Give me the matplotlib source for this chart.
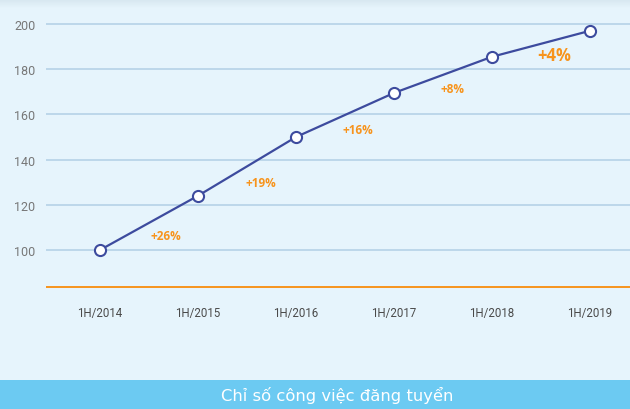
import numpy as np
import matplotlib.pyplot as plt
from matplotlib.colors import LinearSegmentedColormap
from matplotlib.patches import Rectangle

# data
periods = ["1H/2014", "1H/2015", "1H/2016", "1H/2017", "1H/2018", "1H/2019"]
index_values = [100, 124, 150, 169.5, 185.5, 197]
growth_labels = ["+26%", "+19%", "+16%", "+8%", "+4%"]
y_ticks = [100, 120, 140, 160, 180, 200]
title = "Chỉ số công việc đăng tuyển"

bg = "#e6f4fc"
line_col = "#3d4b9e"
orange = "#f7941d"
grid_col = "#bcd7ea"

fig = plt.figure(figsize=(6.3, 4.1), dpi=100)
fig.patch.set_facecolor(bg)

# axes from pixel x=46..630, y=0..381
W, H = 630, 410
ax = fig.add_axes([46 / W, (H - 381) / H, 1 - 46 / W, 381 / H])
px_per_unit = 98.0          # horizontal spacing between periods
px_per_val = 45.2 / 20      # vertical pixels per index point
ax.set_xlim(-54 / px_per_unit, 5 + 40 / px_per_unit)
ax.set_ylim(100 - (381 - 251) / px_per_val, 100 + 251 / px_per_val)

for s in ax.spines.values():
    s.set_visible(False)
ax.set_xticks([])
ax.set_yticks(y_ticks)
ax.tick_params(axis="y", length=0, pad=23, labelsize=9, labelcolor="#777777")
for lab in ax.get_yticklabels():
    lab.set_ha("left")
    lab.set_family(["Roboto", "DejaVu Sans"])
ax.grid(axis="y", color=grid_col, lw=1.4)
ax.set_axisbelow(True)

# orange baseline
base = 100 - 37 / px_per_val
ax.axhline(base, color=orange, lw=1.4)

x = np.arange(len(periods))
ax.plot(x, index_values, color=line_col, lw=1.6, marker="o", ms=8,
        mfc="white", mec=line_col, mew=1.5, zorder=3)

# x labels
lab_y = 100 - (314 - 251) / px_per_val
for xi, p in zip(x, periods):
    ax.text(xi, lab_y, p, ha="center", va="center", fontsize=8.3,
            color="#4a4a4a", family=["Roboto", "DejaVu Sans"])

# growth labels
growth_pos = [(0.67, 106.5), (1.64, 130), (2.63, 153.5), (3.6, 171.5), (4.63, 186.5)]
for i, (txt, (gx, gy)) in enumerate(zip(growth_labels, growth_pos)):
    big = i == len(growth_labels) - 1
    ax.text(gx, gy, txt, ha="center", va="center", color=orange,
            fontsize=12 if big else 8.5, fontweight="bold",
            family=["Open Sans", "DejaVu Sans"])

# soft shadow at the top edge
grad = np.linspace(0, 1, 50).reshape(-1, 1)
top_ax = fig.add_axes([0, 1 - 9 / H, 1, 9 / H], zorder=-1)
top_ax.imshow(grad, aspect="auto", extent=[0, 1, 0, 1], origin="upper",
              cmap=LinearSegmentedColormap.from_list("shade", ["#d6e6ef", bg]))
top_ax.axis("off")
ax.set_zorder(1)
ax.patch.set_alpha(0)

# bottom title bar
fig.patches.append(Rectangle((0, 0), 1, 29 / H, transform=fig.transFigure,
                             facecolor="#6ccaf2", edgecolor="none", zorder=0))
fig.text(337 / W, 15 / H, title, ha="center", va="center", color="white",
         fontsize=11.8, family="DejaVu Sans")

fig.savefig("out.png", dpi=100, facecolor=bg)
